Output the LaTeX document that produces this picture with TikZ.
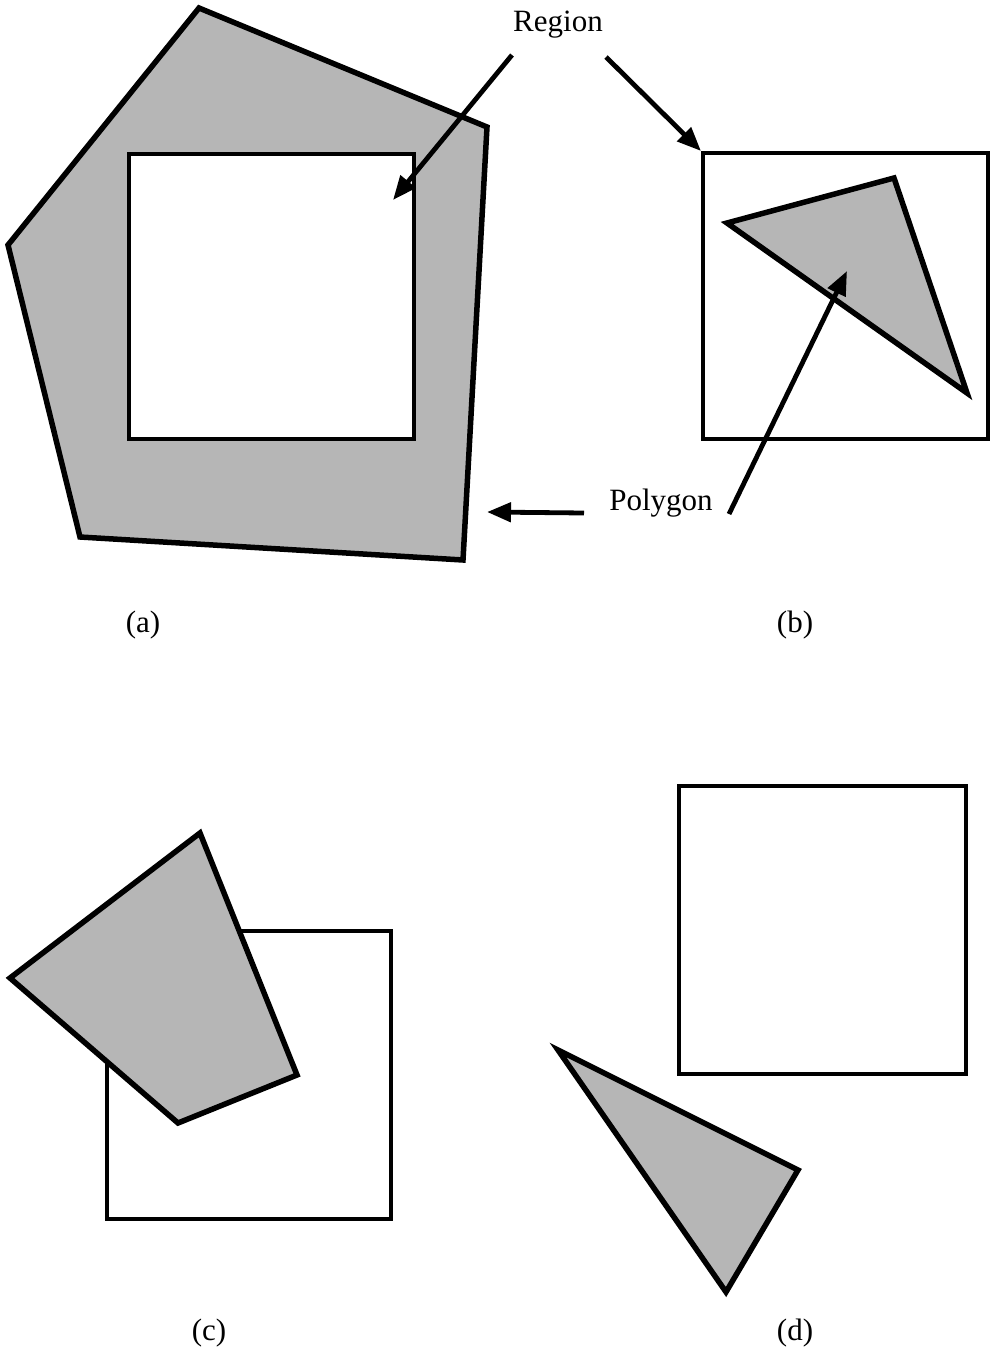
\documentclass[tikz,border=0pt]{standalone}
\usepackage{fontspec}
\setmainfont{Liberation Serif}
\usetikzlibrary{arrows.meta}
\definecolor{stip}{RGB}{182,182,182}
\tikzset{
  poly/.style={draw=black, line width=5.5pt, fill=stip, line join=miter},
  sq/.style={draw=black, line width=4.2pt, line join=miter},
  lab/.style={font=\fontsize{31}{36}\selectfont, inner sep=0pt},
  ptr/.style={line width=4.8pt, -{Triangle[length=24pt,width=19pt]}}
}
\begin{document}
\begin{tikzpicture}[x=1pt,y=-1pt]
\useasboundingbox (0,0) rectangle (990,1349);
% (a)
\draw[poly] (199,8) -- (487,127) -- (463,560) -- (80,537) -- (8,245) -- cycle;
\draw[sq, fill=white] (129,154) rectangle (414,439);
% (b)
\draw[sq] (703,153) rectangle (988,439);
\draw[poly] (727,223) -- (894,178) -- (967,393) -- cycle;
% (c)
\draw[sq] (107,931) rectangle (391,1219);
\draw[poly] (200,833) -- (297,1075) -- (178,1123) -- (10,978) -- cycle;
% (d)
\draw[sq] (679,786) rectangle (966,1074);
\draw[poly] (558,1050) -- (798,1170) -- (726,1292) -- cycle;
% labels
\node[lab] (region) at (558,25) {Region};
\node[lab] (polygon) at (661,503) {Polygon};
\node[lab] (la) at (143,625) {(a)};
\node[lab] (lb) at (795,625) {(b)};
\node[lab] (lc) at (209,1333) {(c)};
\node[lab] (ld) at (795,1333) {(d)};
% arrow ends
\coordinate (r1s) at (512,55);
\coordinate (r1e) at (393,200);
\coordinate (r2s) at (606,57);
\coordinate (r2e) at (701,151);
\coordinate (p1s) at (729,514);
\coordinate (p1e) at (847,271);
\coordinate (p2s) at (584,513);
\coordinate (p2e) at (487,512);
\draw[ptr] (r1s) -- (r1e);
\draw[ptr] (r2s) -- (r2e);
\draw[ptr] (p1s) -- (p1e);
\draw[ptr] (p2s) -- (p2e);
\end{tikzpicture}
\end{document}
